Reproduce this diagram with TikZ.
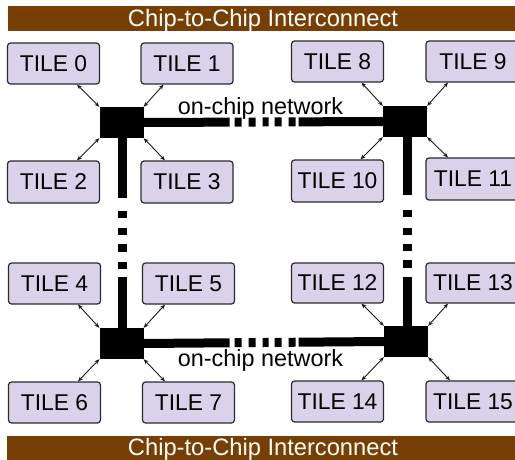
\documentclass[tikz,border=0pt]{standalone}
\usepackage{fontspec}
\setmainfont{Liberation Sans}
\usetikzlibrary{arrows.meta}
\definecolor{tilefill}{HTML}{DAD2EA}
\definecolor{tileline}{HTML}{2B2B2B}
\definecolor{linkline}{HTML}{1A1A1A}
\definecolor{barbrown}{HTML}{783F04}
\tikzset{
  tile/.style={draw=tileline, fill=tilefill, line width=1.2pt, rounded corners=3pt,
    minimum width=92pt, minimum height=41pt, inner sep=0pt, text depth=0pt,
    font=\fontsize{22.8}{26}\selectfont},
  hub/.style={fill=black, minimum width=44pt, minimum height=31pt, inner sep=0pt},
  bar/.style={fill=barbrown},
  bartext/.style={anchor=base, text=white, inner sep=0pt, font=\fontsize{23.7}{26}\selectfont},
  netlabel/.style={anchor=base, inner sep=0pt, font=\fontsize{23.4}{26}\selectfont},
  link/.style={draw=linkline, line width=0.9pt, {Stealth[length=5pt,width=4pt]}-{Stealth[length=5pt,width=4pt]}},
  hbus/.style={line width=9pt, dash pattern=on 86pt off 5pt on 7pt off 7pt on 7pt off 7pt on 6pt off 6pt on 7pt off 7pt on 7pt off 3pt on 200pt},
  vbusl/.style={line width=9pt, dash pattern=on 60pt off 13pt on 7pt off 10pt on 7pt off 9pt on 8pt off 10pt on 7pt off 8pt on 200pt},
  vbusr/.style={line width=9pt, dash pattern=on 58pt off 15pt on 7pt off 11pt on 7pt off 9pt on 7pt off 9pt on 8pt off 9pt on 200pt},
}
\begin{document}
\begin{tikzpicture}[x=1pt, y=-1pt]
\useasboundingbox (0,0) rectangle (515,460);
\clip (0,0) rectangle (515,460);

% chip-to-chip interconnect bars
\fill[bar] (8,6) rectangle (520,31);
\node[bartext] (topbar) at (263,27) {Chip-to-Chip Interconnect};
\fill[bar] (7,436) rectangle (520,461);
\node[bartext] (botbar) at (263,455) {Chip-to-Chip Interconnect};

% routers
\node[hub] (h0) at (121.5,122.5) {};
\node[hub] (h1) at (405,121.5) {};
\node[hub] (h2) at (121.5,343.5) {};
\node[hub] (h3) at (406,341.5) {};

% on-chip network links
\draw[hbus] (h0.east) -- (h1.west);
\draw[hbus] (h2.east) -- (h3.west);
\draw[vbusl] ([xshift=1pt]h0.south) -- ([xshift=1pt]h2.north);
\draw[vbusr] ([xshift=2.5pt]h1.south) -- ([xshift=1.5pt]h3.north);

\node[netlabel] (lab0) at (260.5,114) {on-chip network};
\node[netlabel] (lab1) at (260.5,366.5) {on-chip network};

% tiles
\node[tile] (t0)  at (53.5,63.5)  {TILE 0};
\node[tile] (t1)  at (187,63.5)   {TILE 1};
\node[tile, minimum height=42pt] (t2)  at (53.5,182)   {TILE 2};
\node[tile, minimum height=42pt] (t3)  at (187,182)    {TILE 3};
\node[tile] (t4)  at (54.5,283.5) {TILE 4};
\node[tile] (t5)  at (188.5,283.5){TILE 5};
\node[tile] (t6)  at (54.5,402.5) {TILE 6};
\node[tile] (t7)  at (188.5,402.5){TILE 7};
\node[tile] (t8)  at (337.5,61.5) {TILE 8};
\node[tile, minimum width=94pt] (t9)  at (473,61.5)   {TILE 9};
\node[tile, minimum height=42pt] (t10) at (337.5,181)  {TILE 10};
\node[tile, minimum width=94pt, minimum height=42pt] (t11) at (473,179)    {TILE 11};
\node[tile, minimum height=40pt] (t12) at (337.5,283)  {TILE 12};
\node[tile, minimum width=94pt, minimum height=40pt] (t13) at (473,283)    {TILE 13};
\node[tile] (t14) at (337.5,401.5){TILE 14};
\node[tile, minimum width=94pt] (t15) at (473,401.5)  {TILE 15};

% tile-to-router links
\draw[link] ([xshift=23.5pt]t0.south)  -- (h0.north west);
\draw[link] ([xshift=-23.5pt]t1.south) -- (h0.north east);
\draw[link] ([xshift=23.5pt]t2.north)  -- (h0.south west);
\draw[link] ([xshift=-22pt]t3.north)   -- (h0.south east);
\draw[link] ([xshift=23.5pt]t4.south)  -- (h2.north west);
\draw[link] ([xshift=-23.5pt]t5.south) -- (h2.north east);
\draw[link] ([xshift=23.5pt]t6.north)  -- (h2.south west);
\draw[link] ([xshift=-23.5pt]t7.north) -- (h2.south east);
\draw[link] ([xshift=24pt]t8.south)    -- (h1.north west);
\draw[link] ([xshift=-25pt]t9.south)   -- (h1.north east);
\draw[link] ([xshift=23pt]t10.north)   -- (h1.south west);
\draw[link] ([xshift=-25pt]t11.north)  -- (h1.south east);
\draw[link] ([xshift=24pt]t12.south)   -- (h3.north west);
\draw[link] ([xshift=-25pt]t13.south)  -- (h3.north east);
\draw[link] ([xshift=24pt]t14.north)   -- (h3.south west);
\draw[link] ([xshift=-23pt]t15.north)  -- (h3.south east);
\end{tikzpicture}
\end{document}
